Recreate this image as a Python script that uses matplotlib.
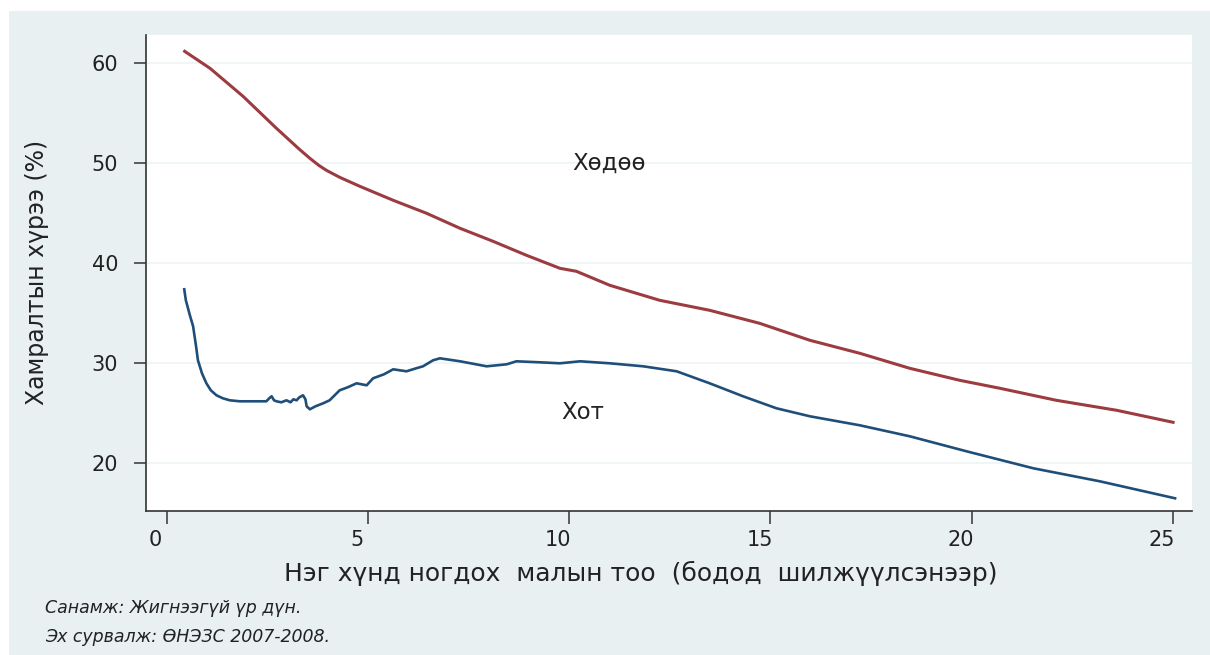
import matplotlib
matplotlib.use('Agg')
import matplotlib.pyplot as plt
from matplotlib.patches import Rectangle
from matplotlib.transforms import ScaledTranslation

plt.rcParams['font.family'] = ['DejaVu Sans']

# Хөдөө (rural)
rural_x = [0.45, 1.08, 1.90, 2.73, 3.30, 3.56, 3.78, 3.97, 4.30, 4.80, 5.63, 6.46,
           7.29, 8.11, 8.94, 9.77, 10.18, 11.01, 12.25, 13.49, 14.73, 15.98, 17.22,
           18.46, 19.70, 20.70, 22.10, 23.60, 25.00]
rural_y = [61.2, 59.5, 56.7, 53.5, 51.4, 50.5, 49.8, 49.3, 48.6, 47.7, 46.3, 45.0,
           43.5, 42.2, 40.8, 39.5, 39.2, 37.8, 36.3, 35.3, 34.0, 32.3, 31.0,
           29.5, 28.3, 27.5, 26.3, 25.3, 24.1]

# Хот (urban)
urban_x = [0.44, 0.48, 0.58, 0.66, 0.73, 0.78, 0.88, 0.99, 1.10, 1.24, 1.40, 1.57,
           1.82, 2.48, 2.55, 2.61, 2.67, 2.73, 2.85, 2.98, 3.08, 3.15, 3.23, 3.30,
           3.39, 3.45, 3.48, 3.56, 3.70, 3.89, 4.05, 4.30, 4.50, 4.72, 4.97, 5.13,
           5.40, 5.63, 5.96, 6.20, 6.37, 6.62, 6.79, 7.29, 7.95, 8.45, 8.69, 9.27,
           9.77, 10.27, 11.01, 11.84, 12.67, 13.49, 14.32, 15.15, 15.98, 17.22,
           18.46, 19.87, 21.53, 23.18, 25.05]
urban_y = [37.4, 36.3, 34.8, 33.7, 31.8, 30.3, 29.0, 28.0, 27.3, 26.8, 26.5, 26.3,
           26.2, 26.2, 26.5, 26.7, 26.3, 26.2, 26.1, 26.3, 26.1, 26.4, 26.3, 26.6,
           26.8, 26.4, 25.7, 25.4, 25.7, 26.0, 26.3, 27.3, 27.6, 28.0, 27.8, 28.5,
           28.9, 29.4, 29.2, 29.5, 29.7, 30.3, 30.5, 30.2, 29.7, 29.9, 30.2, 30.1,
           30.0, 30.2, 30.0, 29.7, 29.2, 28.0, 26.7, 25.5, 24.7, 23.8,
           22.7, 21.2, 19.5, 18.2, 16.5]

x_ticks = [0, 5, 10, 15, 20, 25]
y_ticks = [20, 30, 40, 50, 60]

fig = plt.figure(figsize=(12.1, 6.55), dpi=100)
fig.patch.set_facecolor('white')
fig.patches.append(Rectangle((9 / 1210, 0), 1, 1 - 11 / 655, transform=fig.transFigure,
                             facecolor='#e8f0f2', edgecolor='none', zorder=-10))

ax = fig.add_axes([146 / 1210, 1 - 510.7 / 655, (1192 - 146) / 1210, (510.7 - 35) / 655])
ax.set_facecolor('white')

ax.plot(rural_x, rural_y, color='#9c3b40', lw=2.2, zorder=3)
ax.plot(urban_x, urban_y, color='#1f4e79', lw=1.9, zorder=3)

ax.text(10.99, 50.0, 'Хөдөө', fontsize=16.5, ha='center', va='center', color='#222222')
ax.text(10.34, 25.1, 'Хот', fontsize=16.5, ha='center', va='center', color='#222222')

ax.set_xlim(-0.51, 25.47)
ax.set_ylim(15.26, 62.83)
ax.set_xticks(x_ticks)
ax.set_yticks(y_ticks)
ax.grid(axis='y', color='#edf3f3', lw=1.2, zorder=0)
ax.set_axisbelow(True)

for s in ['top', 'right']:
    ax.spines[s].set_visible(False)
for s in ['left', 'bottom']:
    ax.spines[s].set_color('#333333')
    ax.spines[s].set_linewidth(1.2)

ax.tick_params(axis='both', length=9, width=1.1, color='#333333',
               labelsize=15, labelcolor='#222222')
ax.tick_params(axis='y', pad=11)
ax.tick_params(axis='x', pad=5)
shift = ScaledTranslation(-11 / 100, 0, fig.dpi_scale_trans)
for lab in ax.get_xticklabels():
    lab.set_transform(lab.get_transform() + shift)

ax.set_ylabel('Хамралтын хүрээ (%)', fontsize=17, color='#222222')
ax.yaxis.set_label_coords(-0.093, 0.5)
fig.text(641 / 1210, 1 - 573 / 655, 'Нэг хүнд ногдох  малын тоо  (бодод  шилжүүлсэнээр)',
         fontsize=18, ha='center', va='center', color='#222222')

fig.text(45 / 1210, 1 - 608 / 655, 'Санамж: Жигнээгүй үр дүн.', fontsize=12.5,
         style='italic', ha='left', va='center', color='#222222')
fig.text(45 / 1210, 1 - 637 / 655, 'Эх сурвалж: ӨНЭЗС 2007-2008.', fontsize=12.5,
         style='italic', ha='left', va='center', color='#222222')

fig.savefig('out.png', dpi=100, facecolor=fig.get_facecolor())
